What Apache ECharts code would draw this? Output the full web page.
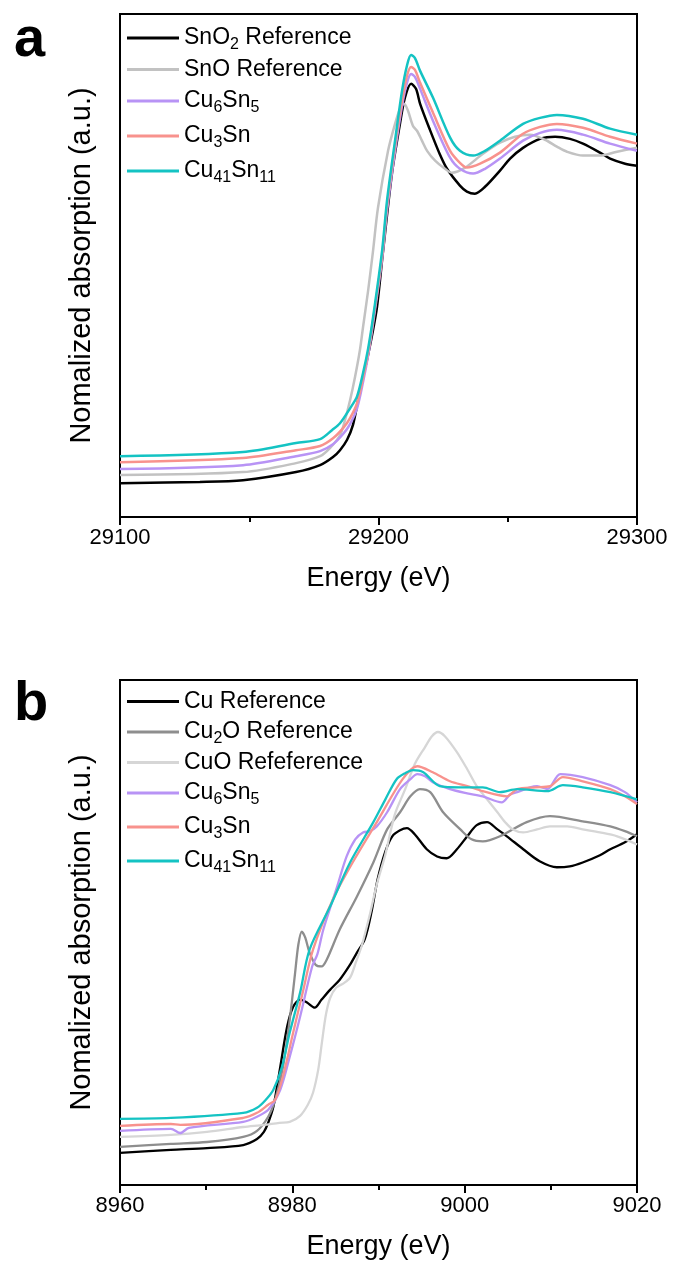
<!DOCTYPE html>
<html>
<head>
<meta charset="utf-8">
<script src="https://cdn.jsdelivr.net/npm/echarts@6/dist/echarts.min.js"></script>
<style>
html,body{margin:0;padding:0;background:#fff;}
#chart{width:675px;height:1263px;}
</style>
</head>
<body>
<div id="chart"></div>
<script>
// ---------- Panel a : Sn K-edge ----------
const xTicksA = [29100, 29200, 29300];
const snO2Ref = [[29100,-0.007],[29130.9,-0.003],[29147.6,0.003],[29168.1,0.030],[29177.4,0.053],[29182.4,0.080],[29185.1,0.103],[29187.8,0.137],[29190.1,0.187],[29192.1,0.270],[29193.6,0.330],[29195.5,0.403],[29197.5,0.487],[29199.4,0.580],[29201.7,0.763],[29205.2,1.027],[29208.3,1.193],[29210.2,1.280],[29212.6,1.327],[29214.5,1.310],[29216.1,1.260],[29219.9,1.173],[29223.8,1.090],[29226.5,1.043],[29231.5,0.987],[29234.2,0.967],[29237.3,0.960],[29241.2,0.983],[29247.0,1.037],[29250.9,1.077],[29255.9,1.113],[29262.5,1.143],[29268.3,1.150],[29274.1,1.143],[29279.1,1.127],[29285.7,1.097],[29289.6,1.077],[29295.4,1.060],[29300,1.053]];
const snORef = [[29100,0.020],[29147.6,0.030],[29168.1,0.060],[29177.4,0.083],[29181.2,0.110],[29185.1,0.153],[29187.0,0.203],[29189.0,0.270],[29190.9,0.347],[29192.8,0.437],[29194.0,0.513],[29196.0,0.637],[29197.9,0.770],[29199.8,0.913],[29203.7,1.103],[29206.4,1.193],[29208.3,1.243],[29209.9,1.260],[29211.4,1.237],[29213.3,1.187],[29214.9,1.170],[29216.8,1.137],[29218.8,1.103],[29221.9,1.070],[29225.7,1.043],[29228.4,1.030],[29233.5,1.047],[29240.4,1.093],[29247.0,1.130],[29252.8,1.150],[29258.6,1.157],[29264.4,1.140],[29269.0,1.117],[29272.9,1.100],[29279.1,1.087],[29285.7,1.087],[29292.3,1.100],[29300,1.113]];
const cu6sn5A = [[29100,0.040],[29147.6,0.053],[29168.1,0.083],[29177.4,0.100],[29182.4,0.123],[29186.3,0.157],[29189.0,0.190],[29191.7,0.243],[29194.0,0.330],[29196.0,0.420],[29197.9,0.527],[29201.4,0.743],[29203.3,0.903],[29206.4,1.103],[29209.1,1.253],[29211.0,1.330],[29212.6,1.360],[29214.1,1.350],[29216.1,1.310],[29221.1,1.203],[29227.7,1.080],[29231.5,1.043],[29236.6,1.027],[29241.2,1.043],[29247.0,1.077],[29255.9,1.137],[29262.5,1.163],[29269.0,1.173],[29279.1,1.157],[29289.6,1.127],[29300,1.103]];
const cu3snA = [[29100,0.063],[29147.6,0.077],[29168.1,0.103],[29177.4,0.117],[29182.4,0.143],[29186.3,0.177],[29189.0,0.210],[29191.7,0.260],[29194.0,0.343],[29196.0,0.430],[29197.9,0.537],[29201.4,0.753],[29203.3,0.920],[29206.4,1.120],[29209.1,1.270],[29211.0,1.353],[29212.6,1.383],[29214.1,1.373],[29216.1,1.330],[29221.1,1.230],[29227.7,1.103],[29231.5,1.063],[29234.2,1.047],[29239.3,1.060],[29247.0,1.097],[29255.9,1.160],[29262.5,1.183],[29269.0,1.193],[29279.1,1.180],[29289.6,1.150],[29300,1.127]];
const cu41sn11A = [[29100,0.083],[29147.6,0.097],[29168.1,0.127],[29177.4,0.140],[29182.0,0.170],[29185.1,0.193],[29189.0,0.243],[29191.7,0.283],[29194.0,0.360],[29196.0,0.443],[29197.9,0.547],[29201.4,0.770],[29203.3,0.937],[29206.4,1.137],[29209.1,1.303],[29211.0,1.387],[29212.6,1.423],[29214.1,1.413],[29216.1,1.370],[29221.1,1.280],[29227.7,1.147],[29231.5,1.103],[29236.6,1.087],[29241.2,1.103],[29247.0,1.137],[29255.9,1.193],[29262.5,1.213],[29269.0,1.223],[29279.1,1.210],[29289.6,1.177],[29300,1.157]];

// ---------- Panel b : Cu K-edge ----------
const xTicksB = [8960, 8980, 9000, 9020];
const cuRef = [[8960,-0.003],[8965.9,0.007],[8970.1,0.013],[8974.3,0.023],[8975.9,0.043],[8976.7,0.067],[8977.2,0.097],[8977.8,0.150],[8978.6,0.283],[8979.4,0.417],[8980.1,0.483],[8980.9,0.507],[8981.7,0.497],[8982.6,0.480],[8983.4,0.507],[8984.4,0.540],[8985.5,0.573],[8986.7,0.623],[8987.5,0.663],[8988.4,0.707],[8989.2,0.800],[8989.9,0.907],[8990.8,1.000],[8991.6,1.050],[8992.5,1.070],[8993.3,1.077],[8994.2,1.057],[8995.6,1.007],[8996.8,0.983],[8997.9,0.977],[8999.1,1.007],[9000.3,1.050],[9001.4,1.087],[9002.6,1.097],[9003.8,1.073],[9004.9,1.050],[9006.8,1.007],[9008.7,0.967],[9010.7,0.947],[9012.2,0.950],[9013.7,0.963],[9015.7,0.987],[9016.9,1.007],[9018.6,1.030],[9020,1.057]];
const cu2oRef = [[8960,0.017],[8965.9,0.027],[8970.1,0.033],[8974.3,0.050],[8975.9,0.070],[8977.2,0.117],[8978.0,0.173],[8978.9,0.280],[8979.7,0.440],[8980.3,0.590],[8980.7,0.690],[8981.1,0.733],[8981.5,0.713],[8982.0,0.663],[8982.7,0.623],[8983.4,0.617],[8984.0,0.640],[8985.5,0.740],[8987.5,0.850],[8989.4,0.963],[8991.0,1.073],[8992.5,1.130],[8993.7,1.183],[8994.8,1.207],[8996.0,1.197],[8997.5,1.130],[8999.5,1.073],[9000.8,1.040],[9002.1,1.033],[9004.1,1.050],[9007.2,1.097],[9009.9,1.117],[9013.7,1.100],[9016.9,1.083],[9018.6,1.067],[9020,1.050]];
const cuoRef = [[8960,0.050],[8965.9,0.057],[8970.1,0.067],[8974.3,0.083],[8976.7,0.090],[8978.5,0.097],[8979.7,0.100],[8980.9,0.120],[8981.8,0.157],[8982.4,0.197],[8983.0,0.273],[8983.4,0.357],[8983.9,0.457],[8984.4,0.513],[8985.1,0.547],[8985.9,0.560],[8986.7,0.580],[8987.4,0.633],[8988.1,0.690],[8989.0,0.790],[8989.8,0.890],[8990.8,0.990],[8991.9,1.123],[8993.1,1.207],[8994.2,1.290],[8995.4,1.347],[8996.2,1.383],[8996.9,1.397],[8997.7,1.383],[8999.1,1.330],[9000.3,1.273],[9001.4,1.217],[9002.6,1.173],[9003.8,1.130],[9004.7,1.097],[9005.6,1.073],[9006.8,1.063],[9008.4,1.073],[9009.9,1.083],[9011.9,1.083],[9013.7,1.073],[9015.7,1.063],[9017.7,1.050],[9020,1.023]];
const cu6sn5B = [[8960,0.070],[8965.9,0.077],[8967.0,0.063],[8968.0,0.080],[8974.3,0.100],[8975.9,0.117],[8977.2,0.140],[8978.6,0.207],[8979.7,0.317],[8980.9,0.450],[8982.3,0.617],[8982.9,0.657],[8983.6,0.740],[8985.2,0.883],[8986.3,0.983],[8987.3,1.040],[8988.2,1.063],[8989.0,1.067],[8989.8,1.083],[8991.0,1.130],[8992.5,1.207],[8993.7,1.240],[8994.5,1.257],[8995.4,1.250],[8996.3,1.230],[8998.3,1.207],[9000.3,1.193],[9002.1,1.183],[9004.3,1.163],[9005.3,1.190],[9006.1,1.197],[9007.6,1.213],[9008.4,1.217],[9009.6,1.207],[9011.1,1.257],[9013.7,1.247],[9016.9,1.220],[9018.6,1.197],[9020,1.163]];
const cu3snB = [[8960,0.087],[8965.9,0.093],[8967.0,0.090],[8974.3,0.113],[8975.9,0.130],[8977.2,0.157],[8978.0,0.173],[8978.9,0.250],[8980.1,0.397],[8981.2,0.530],[8982.4,0.673],[8984.7,0.840],[8987.0,0.963],[8989.8,1.097],[8992.8,1.240],[8994.5,1.283],[8996.3,1.263],[8998.3,1.233],[9000.3,1.217],[9002.1,1.200],[9004.9,1.183],[9006.1,1.207],[9008.2,1.213],[9009.9,1.217],[9011.4,1.247],[9013.7,1.233],[9016.9,1.207],[9018.6,1.183],[9020,1.157]];
const cu41sn11B = [[8960,0.110],[8965.9,0.113],[8974.3,0.130],[8975.9,0.147],[8976.9,0.173],[8977.8,0.207],[8978.8,0.283],[8979.7,0.397],[8980.9,0.530],[8982.0,0.673],[8984.4,0.817],[8986.7,0.963],[8989.4,1.097],[8990.8,1.173],[8992.1,1.240],[8993.1,1.260],[8994.0,1.270],[8995.2,1.263],[8997.1,1.217],[8999.5,1.213],[9002.1,1.213],[9004.1,1.197],[9006.1,1.207],[9009.6,1.200],[9011.4,1.220],[9013.7,1.213],[9016.9,1.197],[9020,1.173]];

const namesA = ['SnO2 Reference', 'SnO Reference', 'Cu6Sn5', 'Cu3Sn', 'Cu41Sn11'];
const namesB = ['Cu Reference', 'Cu2O Reference', 'CuO Refeference', 'Cu6Sn5 ', 'Cu3Sn ', 'Cu41Sn11 '];
const richNames = {
  'SnO2 Reference': '{n|SnO}{s|2}{n| Reference}',
  'SnO Reference': '{n|SnO Reference}',
  'Cu6Sn5': '{n|Cu}{s|6}{n|Sn}{s|5}',
  'Cu3Sn': '{n|Cu}{s|3}{n|Sn}',
  'Cu41Sn11': '{n|Cu}{s|41}{n|Sn}{s|11}',
  'Cu Reference': '{n|Cu Reference}',
  'Cu2O Reference': '{n|Cu}{s|2}{n|O Reference}',
  'CuO Refeference': '{n|CuO Refeference}',
  'Cu6Sn5 ': '{n|Cu}{s|6}{n|Sn}{s|5}',
  'Cu3Sn ': '{n|Cu}{s|3}{n|Sn}',
  'Cu41Sn11 ': '{n|Cu}{s|41}{n|Sn}{s|11}'
};

const FONT = 'Liberation Sans, Arial, sans-serif';
const colors = {
  black: '#000000', snoGray: '#c2c2c2', purple: '#b893f5', pink: '#f8928d', cyan: '#14c3c3',
  cu2oGray: '#8e8e8e', cuoGray: '#d6d6d6'
};

const chart = echarts.init(document.getElementById('chart'), null, {renderer: 'canvas'});

function mkSeries(name, data, color, idx, w) {
  return {
    name: name, type: 'line', data: data, xAxisIndex: idx, yAxisIndex: idx,
    symbol: 'none', showSymbol: false, smooth: 0.3, animation: false,
    lineStyle: {color: color, width: w}, itemStyle: {color: color}
  };
}

const rich = {
  n: {fontSize: 23, fontFamily: FONT, color: '#000', lineHeight: 29},
  s: {fontSize: 16, fontFamily: FONT, color: '#000', lineHeight: 16, padding: [14, 0, 0, 0]}
};

function xAxisCfg(gi, min, max, interval) {
  return {
    type: 'value', gridIndex: gi, min: min, max: max, interval: interval,
    name: 'Energy (eV)', nameLocation: 'middle', nameGap: 48,
    nameTextStyle: {fontSize: 27, fontFamily: FONT, color: '#000'},
    axisLine: {show: true, onZero: false, lineStyle: {color: '#000', width: 2}},
    axisTick: {show: true, inside: false, length: 8, lineStyle: {color: '#000', width: 2}},
    minorTick: {show: true, splitNumber: 2, length: 5, lineStyle: {color: '#000', width: 2}},
    axisLabel: {fontSize: 22, fontFamily: FONT, color: '#000', margin: 10,
      formatter: function (v) { return String(v); }},
    splitLine: {show: false}, minorSplitLine: {show: false}
  };
}
function yAxisCfg(gi, min, max) {
  return {
    type: 'value', gridIndex: gi, min: min, max: max,
    name: 'Nomalized absorption (a.u.)', nameLocation: 'middle', nameGap: 24,
    nameTextStyle: {fontSize: 29, fontFamily: FONT, color: '#000'},
    axisLine: {show: false}, axisTick: {show: false}, axisLabel: {show: false},
    splitLine: {show: false}
  };
}

function legendCfg(names, top, gap) {
  return {
    data: names, orient: 'vertical', left: 127, top: top, padding: 0,
    icon: 'rect', itemWidth: 52, itemHeight: 3, itemGap: gap,
    formatter: function (n) { return richNames[n]; },
    textStyle: {rich: rich, fontFamily: FONT, fontSize: 23, color: '#000'},
    selectedMode: false
  };
}

const option = {
  backgroundColor: '#fff',
  animation: false,
  title: [
    {text: 'a', left: 9, top: 8, textStyle: {fontSize: 56, fontWeight: 'bold', fontFamily: FONT, color: '#000'}},
    {text: 'b', left: 9, top: 672, textStyle: {fontSize: 56, fontWeight: 'bold', fontFamily: FONT, color: '#000'}}
  ],
  grid: [
    {left: 120, top: 14, width: 517, height: 503, show: true, borderColor: '#000', borderWidth: 2, backgroundColor: 'transparent'},
    {left: 120, top: 680, width: 517, height: 505, show: true, borderColor: '#000', borderWidth: 2, backgroundColor: 'transparent'}
  ],
  xAxis: [xAxisCfg(0, xTicksA[0], xTicksA[xTicksA.length - 1], 100), xAxisCfg(1, xTicksB[0], xTicksB[xTicksB.length - 1], 20)],
  yAxis: [yAxisCfg(0, -0.12, 1.56), yAxisCfg(1, -0.11, 1.57)],
  legend: [legendCfg(namesA, 23, 5), legendCfg(namesB, 690, 4)],
  series: [
    mkSeries('SnO2 Reference', snO2Ref, colors.black, 0, 2.5),
    mkSeries('SnO Reference', snORef, colors.snoGray, 0, 2.5),
    mkSeries('Cu6Sn5', cu6sn5A, colors.purple, 0, 2.5),
    mkSeries('Cu3Sn', cu3snA, colors.pink, 0, 2.5),
    mkSeries('Cu41Sn11', cu41sn11A, colors.cyan, 0, 2.5),
    mkSeries('Cu Reference', cuRef, colors.black, 1, 2.3),
    mkSeries('Cu2O Reference', cu2oRef, colors.cu2oGray, 1, 2.3),
    mkSeries('CuO Refeference', cuoRef, colors.cuoGray, 1, 2.3),
    mkSeries('Cu6Sn5 ', cu6sn5B, colors.purple, 1, 2.3),
    mkSeries('Cu3Sn ', cu3snB, colors.pink, 1, 2.3),
    mkSeries('Cu41Sn11 ', cu41sn11B, colors.cyan, 1, 2.3)
  ]
};
chart.setOption(option);
</script>
</body>
</html>
